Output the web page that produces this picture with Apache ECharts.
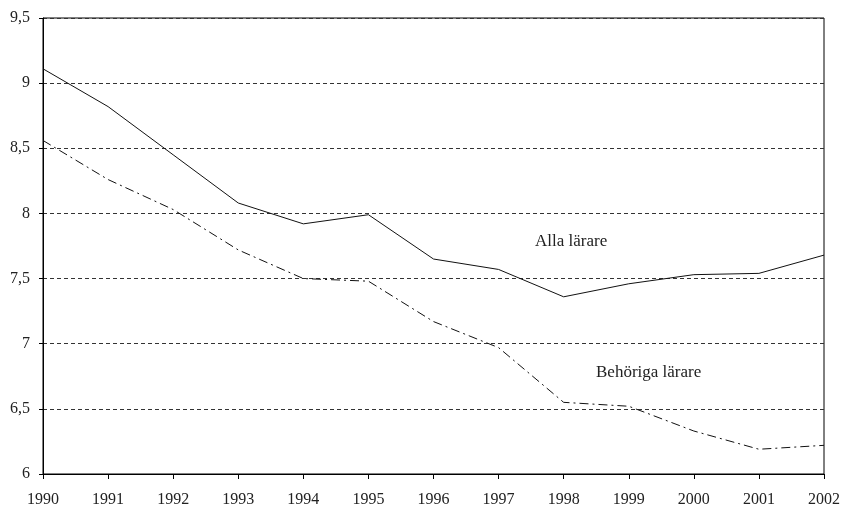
<!DOCTYPE html>
<html>
<head>
<meta charset="utf-8">
<script src="https://cdn.jsdelivr.net/npm/echarts@6/dist/echarts.min.js"></script>
<style>
html,body{margin:0;padding:0;background:#fff;}
#chart{width:842px;height:505px;}
</style>
</head>
<body>
<div id="chart"></div>
<script>
const years = ['1990','1991','1992','1993','1994','1995','1996','1997','1998','1999','2000','2001','2002'];
const allaLarare = [9.11, 8.82, 8.45, 8.08, 7.92, 7.99, 7.65, 7.57, 7.36, 7.46, 7.53, 7.54, 7.68];
const behorigaLarare = [8.56, 8.26, 8.03, 7.72, 7.50, 7.48, 7.17, 6.97, 6.55, 6.52, 6.33, 6.19, 6.22];
const yTicks = [6, 6.5, 7, 7.5, 8, 8.5, 9, 9.5];

const FONT = 'Liberation Serif';
const chart = echarts.init(document.getElementById('chart'), null, {renderer: 'canvas'});
chart.setOption({
  animation: false,
  backgroundColor: '#fff',
  textStyle: {fontFamily: FONT},
  grid: {left: 43, right: 18, top: 18, bottom: 31, outerBoundsMode: 'none', containLabel: false,
    show: true, borderColor: '#000', borderWidth: 1, backgroundColor: 'transparent'},
  xAxis: {
    type: 'category',
    data: years,
    boundaryGap: false,
    axisLine: {lineStyle: {color: '#000', width: 1}},
    axisTick: {show: true, length: 5, inside: false, lineStyle: {color: '#000'}},
    axisLabel: {color: '#222', fontFamily: FONT, fontSize: 16, margin: 18},
    splitLine: {show: false}
  },
  yAxis: {
    type: 'value',
    min: yTicks[0],
    max: yTicks[yTicks.length - 1],
    interval: 0.5,
    axisLine: {show: true, lineStyle: {color: '#000', width: 1}},
    axisTick: {show: true, length: 4, lineStyle: {color: '#000'}},
    axisLabel: {color: '#222', fontFamily: FONT, fontSize: 16, margin: 13,
      formatter: v => String(v).replace('.', ',')},
    splitLine: {show: true, lineStyle: {color: '#333', type: [4, 3], width: 1}}
  },
  series: [
    {
      name: 'Alla lärare',
      type: 'line',
      data: allaLarare,
      symbol: 'none',
      lineStyle: {color: '#111', width: 1},
      z: 3
    },
    {
      name: 'Behöriga lärare',
      type: 'line',
      data: behorigaLarare,
      symbol: 'none',
      lineStyle: {color: '#111', width: 1, type: [9, 4, 2, 4]},
      z: 3
    }
  ],
  graphic: [
    {type: 'text', left: 535, top: 233, style: {text: 'Alla lärare', fontFamily: FONT, fontSize: 17, fill: '#222'}},
    {type: 'text', left: 596, top: 364, style: {text: 'Behöriga lärare', fontFamily: FONT, fontSize: 17, fill: '#222'}}
  ]
});
</script>
</body>
</html>
